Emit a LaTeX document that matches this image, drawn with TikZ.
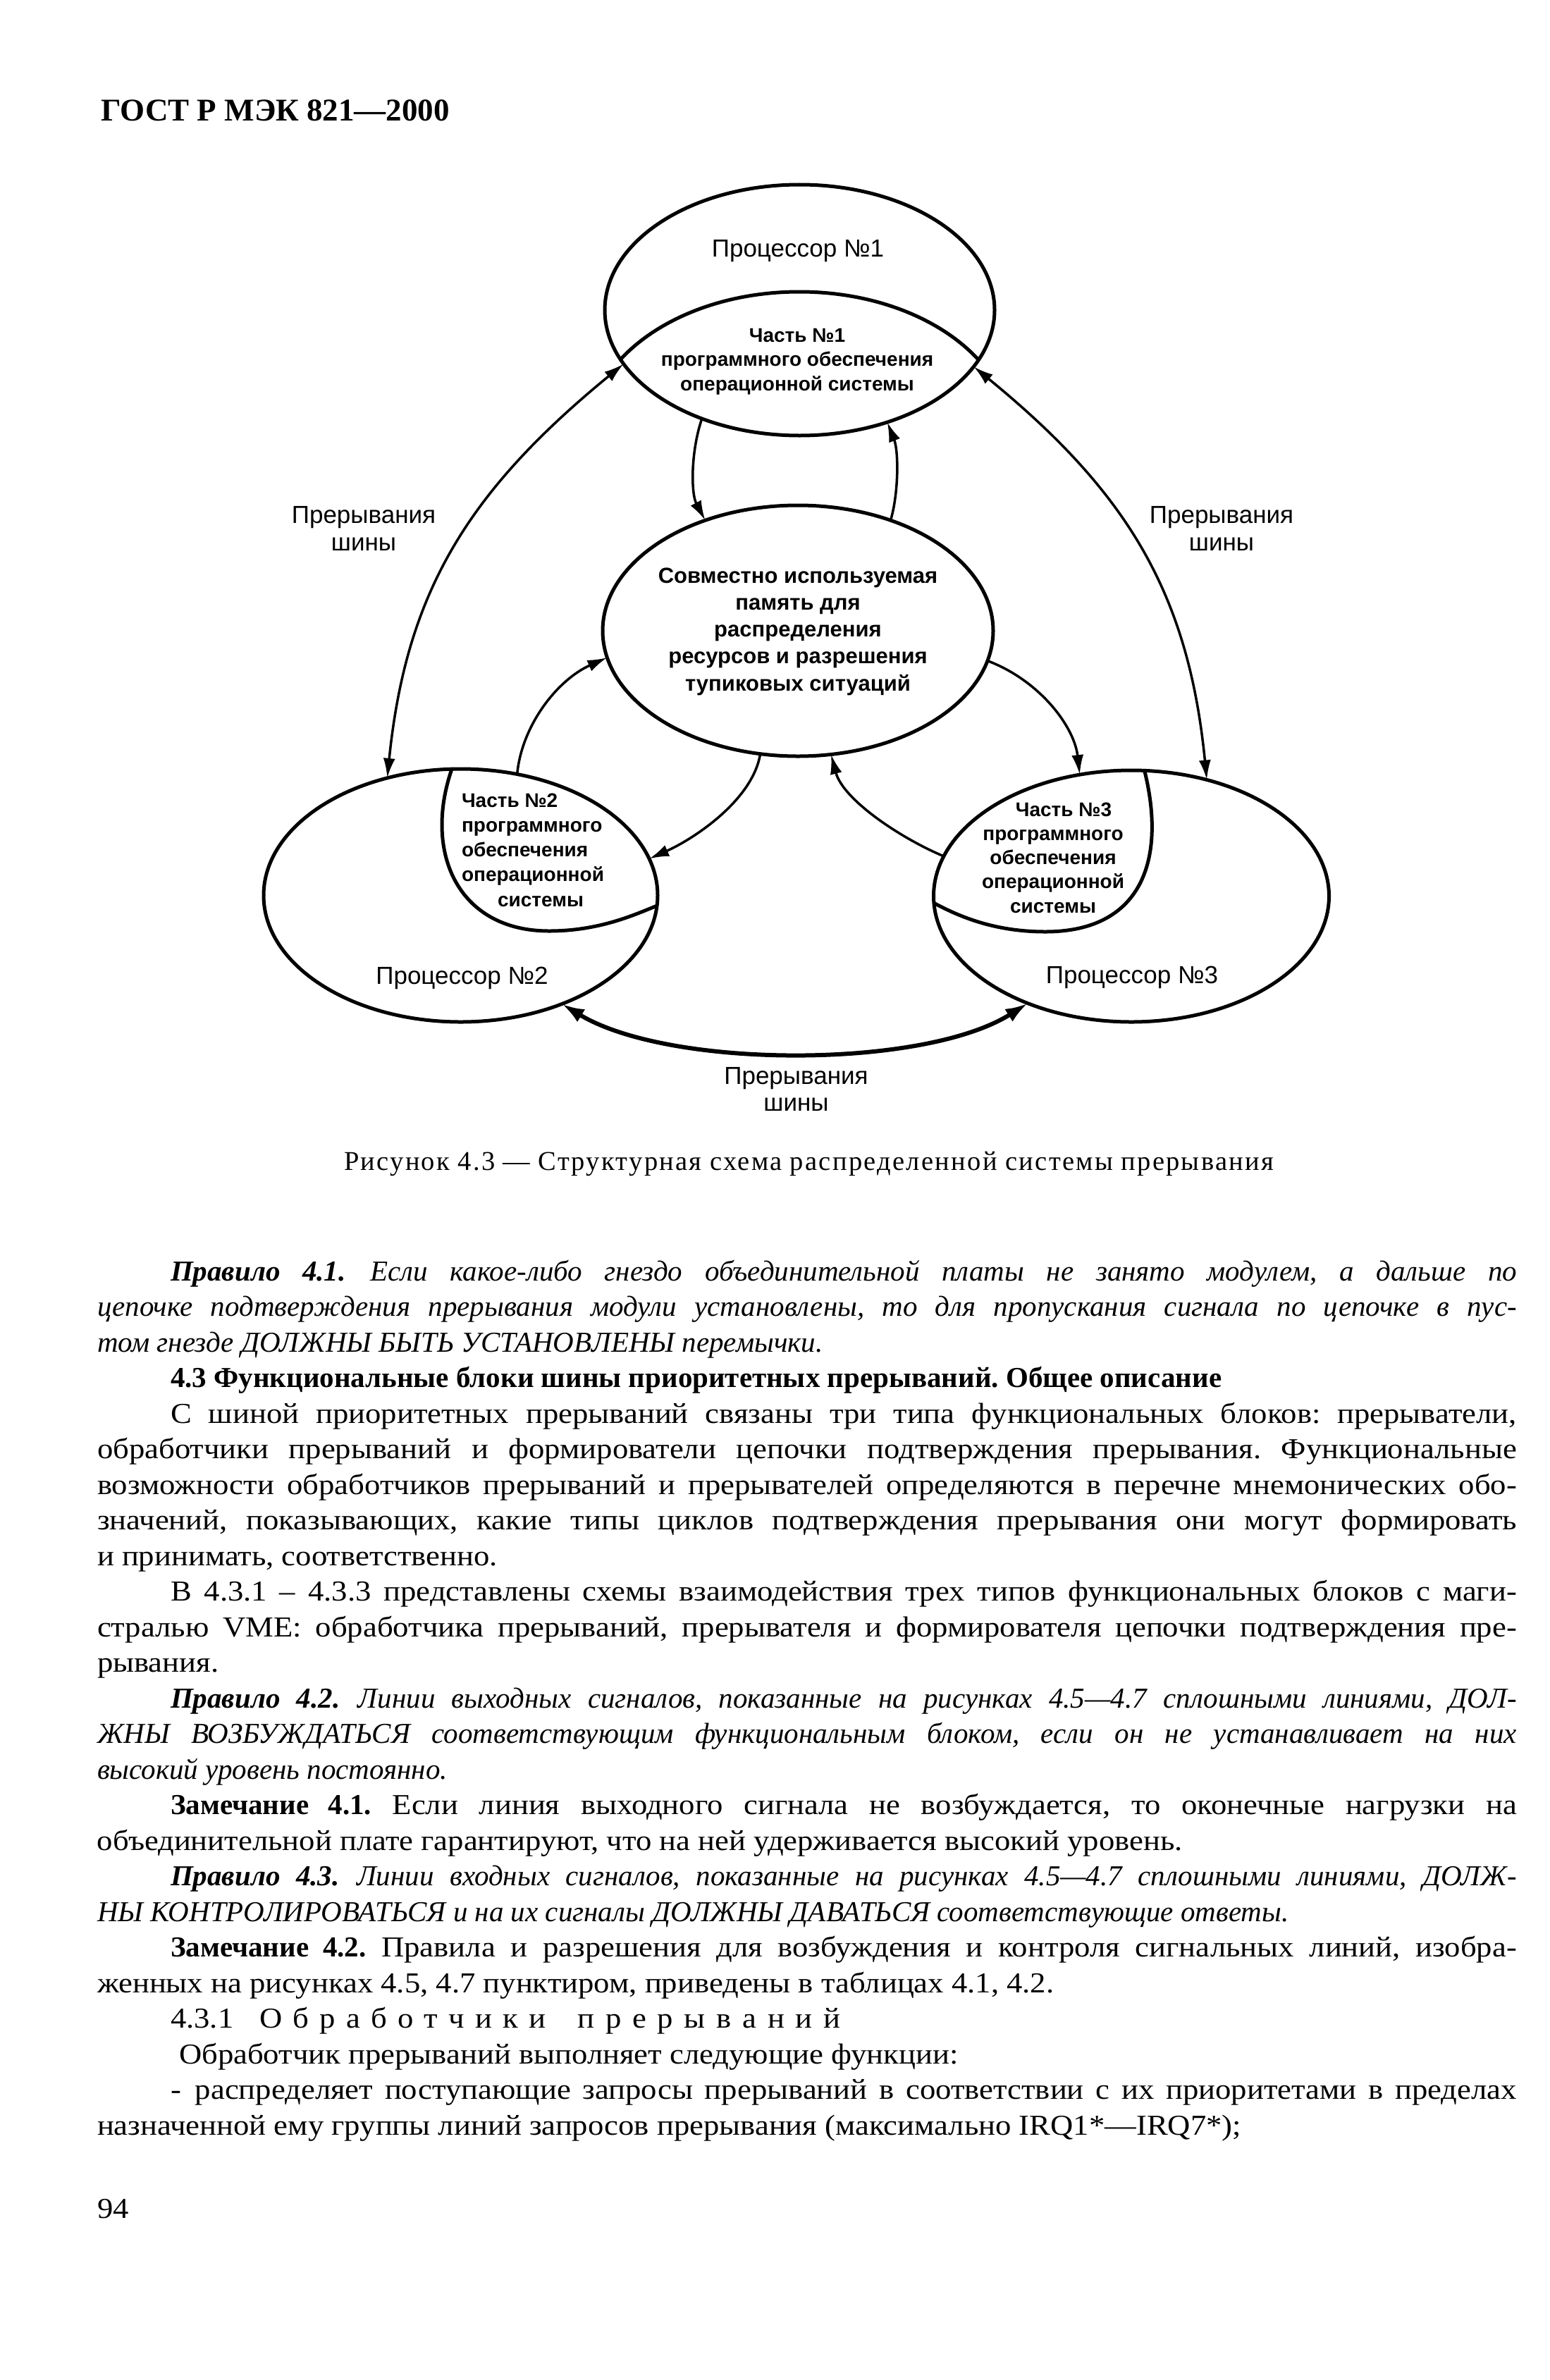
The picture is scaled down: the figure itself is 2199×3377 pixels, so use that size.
\documentclass[tikz,border=0pt]{standalone}
\usepackage{fontspec}
\setmainfont{Liberation Serif}[UprightFeatures={FakeStretch=1.09}]
\newfontfamily\dsans{Liberation Sans}
\newfontfamily\capfont[LetterSpace=6]{Liberation Serif}
\usetikzlibrary{shapes.geometric,arrows.meta}
\newdimen\TW \TW=2014pt
\newcommand\LnJ[1]{\hbox to\TW{#1}}
\newcommand\LnN[1]{\hbox to\TW{#1\hfil}}
\newcommand\LnIJ[1]{\hbox to\TW{\hskip104pt\relax #1}}
\newcommand\LnIN[1]{\hbox to\TW{\hskip104pt\relax #1\hfil}}
\newcommand\Cbox[2]{\vtop{\baselineskip=#1\lineskiplimit=-100pt\lineskip=0pt\halign{\hfil##\hfil\cr#2\crcr}}}
\newcommand\Lbox[2]{\vtop{\baselineskip=#1\lineskiplimit=-100pt\lineskip=0pt\halign{##\hfil\cr#2\crcr}}}
\frenchspacing
\begin{document}
\begin{tikzpicture}[x=1pt,y=-1pt,
  every node/.style={inner sep=0pt, outer sep=0pt},
  ell/.style={ellipse, draw, line width=5pt, inner sep=0pt},
  lens/.style={line width=5pt},
  toend/.style={line width=3.5pt, -{Latex[length=28pt,width=17pt]}},
  both/.style={line width=3.5pt, {Latex[length=28pt,width=17pt]}-{Latex[length=28pt,width=17pt]}},
  bus/.style={line width=6pt, {Latex[length=32pt,width=21pt]}-{Latex[length=32pt,width=21pt]}},
  procl/.style={font=\dsans\fontsize{35pt}{40pt}\selectfont, anchor=base},
  partl/.style={font=\dsans\bfseries\fontsize{28pt}{34pt}\selectfont, anchor=base},
  shl/.style={font=\dsans\bfseries\fontsize{31pt}{38pt}\selectfont, anchor=base},
  busl/.style={font=\dsans\fontsize{35pt}{39pt}\selectfont, anchor=base}]
\useasboundingbox (0,0) rectangle (2199,3377);
\fill[white] (0,0) rectangle (2199,3377);

% header
\node[anchor=base west, font=\bfseries\fontsize{45pt}{50pt}\selectfont] (hdr) at (143,172) {ГОСТ Р МЭК 821—2000};

% ellipses
\node[ell, minimum width=553pt, minimum height=356pt] (p1) at (1134.5,440) {};
\node[ell, minimum width=554pt, minimum height=356pt] (sh) at (1132,895) {};
\node[ell, minimum width=559pt, minimum height=359pt] (p2) at (653.5,1270.5) {};
\node[ell, minimum width=561pt, minimum height=357pt] (p3) at (1605,1271.5) {};

% lenses
\begin{scope}
\clip (1134.5,440) ellipse [x radius=276.5pt, y radius=178pt];
\draw[lens] (1134,620) ellipse [x radius=300pt, y radius=206pt];
\end{scope}
\draw[lens] (p2.94) .. controls (600,1210) and (650,1321) .. (779,1321) .. controls (850,1321) and (900,1298) .. (p2.357.4);
\draw[lens] (p3.84.2) .. controls (1655,1220) and (1620,1322) .. (1483,1322) .. controls (1410,1322) and (1360,1300) .. (p3.182.8);

% texts
\node[procl] (tp1) at (1132,364) {Процессор №1};
\node[partl] (t1) at (1131,485) {\Cbox{34.5pt}{Часть №1\cr программного обеспечения\cr операционной системы}};
\node[shl] (tsh) at (1132,827) {\Cbox{38.25pt}{Совместно используемая\cr память для\cr распределения\cr ресурсов и разрешения\cr тупиковых ситуаций}};
\node[partl, anchor=base west] (t2) at (655,1145) {\Lbox{35.25pt}{Часть №2\cr программного\cr обеспечения\cr операционной\cr \hspace*{51pt}системы}};
\node[partl] (t3) at (1494,1158) {\Cbox{34.25pt}{\hspace*{30pt}Часть №3\cr программного\cr обеспечения\cr операционной\cr системы}};
\node[procl] (tp2) at (655.5,1396) {Процессор №2};
\node[procl] (tp3) at (1606,1395) {Процессор №3};
\node[busl] (lb1) at (516,742) {\Cbox{39pt}{Прерывания\cr шины}};
\node[busl] (lb2) at (1733,742) {\Cbox{39pt}{Прерывания\cr шины}};
\node[busl] (lb3) at (1129.5,1538) {\Cbox{38pt}{Прерывания\cr шины}};

% connectors
\draw[both] (p1.197.2) .. controls (663,698) and (576,841) .. (p2.122.4);
\draw[both] (p1.342) .. controls (1599,698) and (1686,841) .. (p3.57.7);
\draw[toend] (p1.228.2) .. controls (980,640) and (980,700) .. (sh.130.1);
\draw[toend] (sh.50.2) .. controls (1275,700) and (1275,640) .. (p1.308.2);
\draw[toend] (sh.253.7) .. controls (1068,1135) and (985,1190) .. (p2.11.9);
\draw[toend] (p2.65.5) .. controls (740,1030) and (790,965) .. (sh.188.6);
\draw[toend] (sh.351.4) .. controls (1474,965) and (1524,1030) .. (p3.113.2);
\draw[toend] (p3.168.3) .. controls (1279,1190) and (1196,1135) .. (sh.285);
\draw[bus] (p2.313.7) .. controls (950,1517) and (1310,1517) .. (p3.226.6);

% caption
\node[anchor=base west] (cap) at (488,1660) {\capfont\fontsize{38.5pt}{44pt}\selectfont\makebox[1319pt][s]{Рисунок 4.3 — Структурная схема распределенной системы прерывания}};

% body text
\node[anchor=base west] (body) at (138,1817) {\begin{minipage}[t]{\TW}\fontsize{41pt}{50.5pt}\selectfont\baselineskip=50.5pt\lineskiplimit=-100pt\lineskip=0pt
\LnIJ{\textbf{\textit{Правило 4.1.}} \textit{Если какое-либо гнездо объединительной платы не занято модулем, а дальше по}}
\LnJ{\textit{цепочке подтверждения прерывания модули установлены, то для пропускания сигнала по цепочке в пус-}}
\LnN{\textit{том гнезде ДОЛЖНЫ БЫТЬ УСТАНОВЛЕНЫ перемычки.}}
\LnIN{\textbf{4.3 Функциональные блоки шины приоритетных прерываний. Общее описание}}
\LnIJ{С шиной приоритетных прерываний связаны три типа функциональных блоков: прерыватели,}
\LnJ{обработчики прерываний и формирователи цепочки подтверждения прерывания. Функциональные}
\LnJ{возможности обработчиков прерываний и прерывателей определяются в перечне мнемонических обо-}
\LnJ{значений, показывающих, какие типы циклов подтверждения прерывания они могут формировать}
\LnN{и принимать, соответственно.}
\LnIJ{В 4.3.1 – 4.3.3 представлены схемы взаимодействия трех типов функциональных блоков с маги-}
\LnJ{стралью VME: обработчика прерываний, прерывателя и формирователя цепочки подтверждения пре-}
\LnN{рывания.}
\LnIJ{\textbf{\textit{Правило 4.2.}} \textit{Линии выходных сигналов, показанные на рисунках 4.5—4.7 сплошными линиями, ДОЛ-}}
\LnJ{\textit{ЖНЫ ВОЗБУЖДАТЬСЯ соответствующим функциональным блоком, если он не устанавливает на них}}
\LnN{\textit{высокий уровень постоянно.}}
\LnIJ{\textbf{Замечание 4.1.} Если линия выходного сигнала не возбуждается, то оконечные нагрузки на}
\LnN{объединительной плате гарантируют, что на ней удерживается высокий уровень.}
\LnIJ{\textbf{\textit{Правило 4.3.}} \textit{Линии входных сигналов, показанные на рисунках 4.5—4.7 сплошными линиями, ДОЛЖ-}}
\LnN{\textit{НЫ КОНТРОЛИРОВАТЬСЯ и на их сигналы ДОЛЖНЫ ДАВАТЬСЯ соответствующие ответы.}}
\LnIJ{\textbf{Замечание 4.2.} Правила и разрешения для возбуждения и контроля сигнальных линий, изобра-}
\LnN{женных на рисунках 4.5, 4.7 пунктиром, приведены в таблицах 4.1, 4.2.}
\LnIN{4.3.1\hskip37pt\makebox[406pt][s]{О б р а б о т ч и к и}\hskip45pt\makebox[373pt][s]{п р е р ы в а н и й}}
\LnN{\hskip116pt Обработчик прерываний выполняет следующие функции:}
\LnIJ{-\hskip20pt распределяет поступающие запросы прерываний в соответствии с их приоритетами в пределах}
\LnN{назначенной ему группы линий запросов прерывания (максимально IRQ1*—IRQ7*);}
\end{minipage}};

% page number
\node[anchor=base west, font=\fontsize{41pt}{50pt}\selectfont] (pg) at (138,3147) {94};
\end{tikzpicture}
\end{document}
